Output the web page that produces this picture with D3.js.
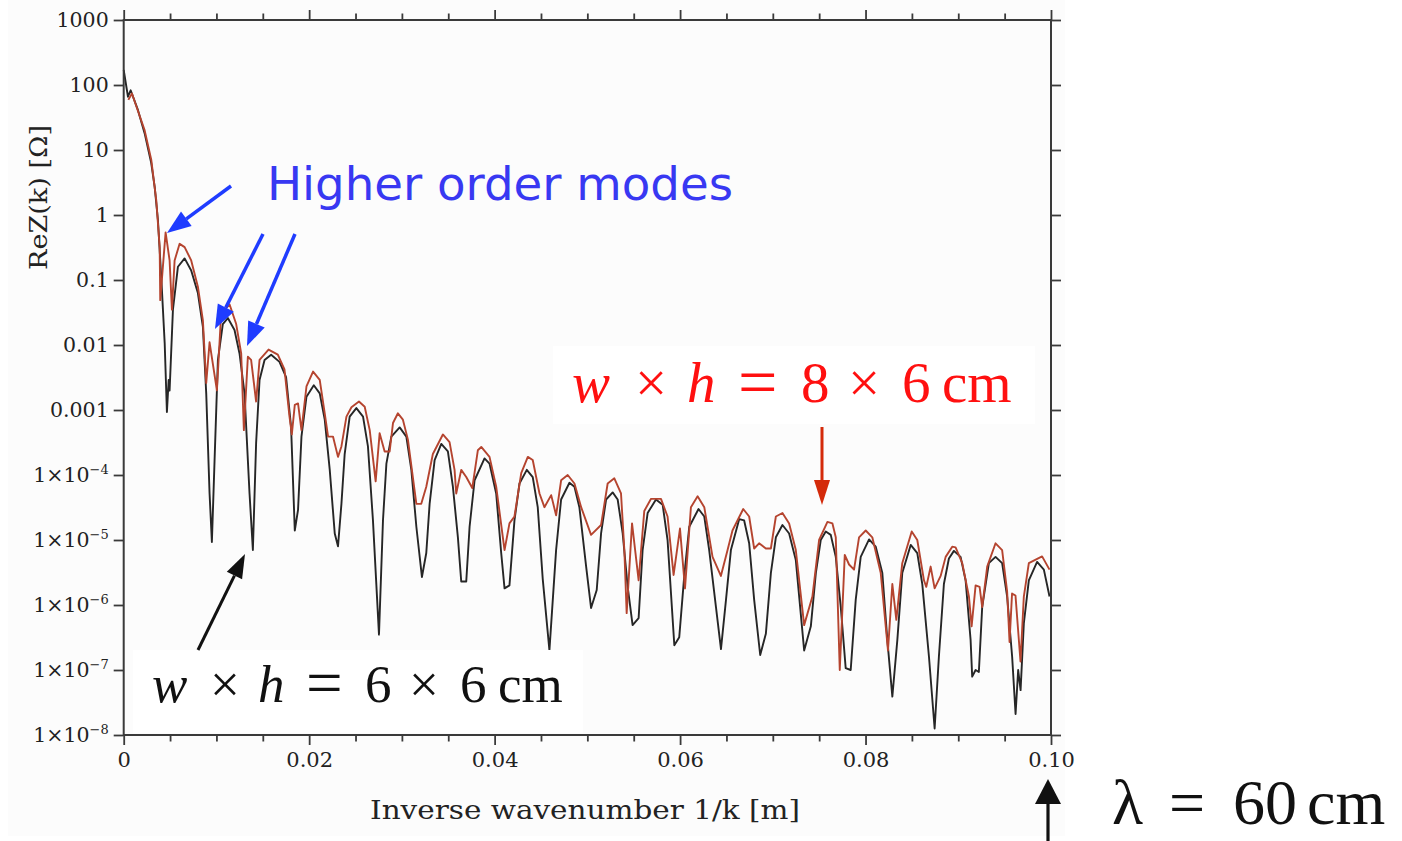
<!DOCTYPE html>
<html>
<head>
<meta charset="utf-8">
<script src="https://cdn.jsdelivr.net/npm/d3@7"></script>
<style>
  body { margin: 0; background: #fff; }
</style>
</head>
<body>
<svg id="chart" width="1402" height="841"></svg>
<script>
// ReZ(k) vs 1/k, two beam-pipe cross sections
const xMajorTicks = [0, 0.02, 0.04, 0.06, 0.08, 0.10];
const xMinorTicks = [0.005, 0.01, 0.015, 0.025, 0.03, 0.035, 0.045, 0.05, 0.055,
                     0.065, 0.07, 0.075, 0.085, 0.09, 0.095];
const yTicks = [1e-8, 1e-7, 1e-6, 1e-5, 1e-4, 1e-3, 1e-2, 1e-1, 1, 10, 100, 1000];

// w x h = 6 x 6 cm  (black)
const curve6x6 = [
  [0, 170], [0.00046, 66], [0.00075, 83], [0.00154, 41], [0.00226, 18], [0.00297, 6.3],
  [0.00334, 2.7], [0.00369, 0.84], [0.00405, 0.11], [0.00442, 0.0107], [0.00466, 0.00093],
  [0.00485, 0.0029], [0.00495, 0.002], [0.00531, 0.035], [0.00585, 0.16], [0.00657, 0.215],
  [0.00728, 0.14], [0.0080, 0.063], [0.00854, 0.019], [0.0089, 0.0018], [0.00926, 5.2e-5],
  [0.00951, 9.3e-6], [0.0098, 1.7e-4], [0.01016, 0.0059], [0.01069, 0.021], [0.01123, 0.026],
  [0.01195, 0.017], [0.01249, 0.0074], [0.01303, 0.0018], [0.01357, 5.2e-5], [0.01393, 7e-6],
  [0.01428, 3.1e-4], [0.01465, 0.0029], [0.01519, 0.0059], [0.0159, 0.0071], [0.0168, 0.0055],
  [0.01751, 0.0032], [0.01805, 5.5e-4], [0.01845, 1.4e-5], [0.0188, 2.9e-5], [0.01917, 3.9e-4],
  [0.01971, 0.0016], [0.0205, 0.0024], [0.02114, 0.0018], [0.02168, 7.1e-4], [0.02222, 1.2e-4],
  [0.02276, 1.26e-5], [0.02311, 8e-6], [0.02348, 3.6e-5], [0.02383, 2.1e-4], [0.02437, 7.9e-4],
  [0.02509, 0.00107], [0.02581, 7.9e-4], [0.02634, 2.75e-4], [0.02688, 2e-5], [0.02753, 3.5e-7],
  [0.02796, 2e-5], [0.02833, 1.5e-4], [0.02886, 3.9e-4], [0.02976, 5.4e-4], [0.03048, 3.9e-4],
  [0.03102, 1.2e-4], [0.03156, 1.6e-5], [0.03216, 2.7e-6], [0.03263, 6.3e-6], [0.03299, 3.6e-5],
  [0.03353, 1.7e-4], [0.03425, 3e-4], [0.03496, 2.3e-4], [0.0355, 6.6e-5], [0.03604, 1.1e-5],
  [0.0364, 2.3e-6], [0.03694, 2.3e-6], [0.0373, 1.6e-5], [0.03784, 8.3e-5], [0.03891, 1.8e-4],
  [0.03945, 1.5e-4], [0.04017, 5.2e-5], [0.04071, 6.3e-6], [0.04107, 1.8e-6], [0.0416, 2e-6],
  [0.04214, 2e-5], [0.04268, 7.4e-5], [0.04347, 1.2e-4], [0.04411, 9.3e-5], [0.04465, 3.2e-5],
  [0.04519, 2.5e-6], [0.04591, 2e-7], [0.04663, 7e-6], [0.04717, 4.2e-5], [0.04807, 7.6e-5],
  [0.04861, 6.6e-5], [0.04914, 3.2e-5], [0.04987, 3.9e-6], [0.0504, 9e-7], [0.05101, 1.7e-6],
  [0.05148, 1.26e-5], [0.05202, 4.2e-5], [0.05273, 5.4e-5], [0.05327, 4.2e-5], [0.05381, 1.26e-5],
  [0.05435, 1.9e-6], [0.05488, 4.9e-7], [0.05553, 6.3e-7], [0.05596, 7e-6], [0.0565, 2.6e-5],
  [0.0574, 4.2e-5], [0.05812, 3.5e-5], [0.05865, 1e-5], [0.05938, 2.4e-7], [0.05991, 3.2e-7],
  [0.06045, 2.8e-6], [0.06099, 1.6e-5], [0.06199, 3e-5], [0.06261, 2.3e-5], [0.06314, 7e-6],
  [0.06387, 9.3e-7], [0.06441, 2.1e-7], [0.06495, 1.2e-6], [0.06548, 7e-6], [0.06638, 2.1e-5],
  [0.06691, 2e-5], [0.06745, 8.9e-6], [0.06799, 1.2e-6], [0.06864, 1.7e-7], [0.06925, 3.6e-7],
  [0.06979, 3.1e-6], [0.07033, 1.1e-5], [0.07104, 1.7e-5], [0.07176, 1.26e-5], [0.07248, 4.9e-6],
  [0.07338, 2e-7], [0.0741, 4.7e-7], [0.07464, 3.1e-6], [0.07517, 1e-5], [0.07571, 1.35e-5],
  [0.07625, 1.2e-5], [0.07679, 5.5e-6], [0.07733, 9.3e-7], [0.07786, 1.07e-7], [0.0784, 1e-7],
  [0.07894, 1.2e-6], [0.07948, 5.5e-6], [0.08038, 1.02e-5], [0.0811, 7.9e-6], [0.08181, 3.1e-6],
  [0.08235, 2.9e-7], [0.08289, 3.9e-8], [0.08343, 2.9e-7], [0.08396, 3.1e-6], [0.08487, 8.4e-6],
  [0.08558, 6.3e-6], [0.08612, 2.1e-6], [0.08684, 1.6e-7], [0.08745, 1.26e-8], [0.08791, 1.6e-7],
  [0.08845, 2.1e-6], [0.08899, 5.2e-6], [0.08953, 6.8e-6], [0.09025, 5.5e-6], [0.09079, 2.4e-6],
  [0.09133, 2.9e-7], [0.0915, 7.9e-8], [0.09187, 1e-7], [0.09222, 9.3e-8], [0.09258, 9.3e-7],
  [0.0933, 4.4e-6], [0.09402, 5.5e-6], [0.09473, 4.4e-6], [0.09527, 1.35e-6], [0.09581, 1.6e-7],
  [0.09618, 2.1e-8], [0.09646, 1e-7], [0.09672, 4.9e-8], [0.09707, 5.2e-7], [0.09761, 2.4e-6],
  [0.0985, 4.6e-6], [0.09923, 3.5e-6], [0.09984, 1.35e-6]
];

// w x h = 8 x 6 cm  (red)
const curve8x6 = [
  [0.0005, 59], [0.00089, 74], [0.00226, 20], [0.00297, 7.1], [0.00351, 1.7], [0.00388, 0.32],
  [0.00394, 0.049], [0.00452, 0.54], [0.00495, 0.2], [0.0052, 0.035], [0.00549, 0.2],
  [0.00603, 0.36], [0.00657, 0.32], [0.00728, 0.2], [0.008, 0.079], [0.00854, 0.024],
  [0.0089, 0.0026], [0.00926, 0.011], [0.01005, 0.002], [0.01051, 0.031], [0.01142, 0.042],
  [0.01213, 0.021], [0.01267, 0.0074], [0.01296, 4.9e-4], [0.01339, 0.0066], [0.01374, 0.0059],
  [0.01428, 0.00135], [0.01465, 0.0059], [0.01562, 0.0085], [0.01662, 0.0071], [0.01734, 0.0042],
  [0.01788, 7.9e-4], [0.01813, 4.2e-4], [0.01845, 0.0012], [0.0188, 0.00126], [0.01917, 4.9e-4],
  [0.01971, 0.0023], [0.02042, 0.0039], [0.02114, 0.0029], [0.02168, 8.9e-4], [0.02204, 3.9e-4],
  [0.02257, 3.9e-4], [0.02311, 1.9e-4], [0.02348, 2.75e-4], [0.02402, 7.9e-4], [0.02456, 0.0011],
  [0.02537, 0.00135], [0.02599, 0.00112], [0.02653, 4.9e-4], [0.02717, 8e-5], [0.0276, 4.4e-4],
  [0.02814, 2.3e-4], [0.02868, 2.3e-4], [0.02904, 6.3e-4], [0.02957, 8.9e-4], [0.03011, 7.1e-4],
  [0.03065, 3.5e-4], [0.03156, 3.6e-5], [0.03209, 3.6e-5], [0.03263, 6.6e-5], [0.03334, 2.1e-4],
  [0.03442, 4.2e-4], [0.03514, 3.2e-4], [0.03568, 1.2e-4], [0.03586, 5.2e-5], [0.0364, 1.2e-4],
  [0.03694, 9.3e-5], [0.03759, 6.3e-5], [0.03819, 2.4e-4], [0.03856, 2.7e-4], [0.03945, 1.9e-4],
  [0.04017, 6.6e-5], [0.04107, 7e-6], [0.0416, 1.8e-5], [0.04214, 2.3e-5], [0.04287, 1.07e-4],
  [0.04358, 1.9e-4], [0.04411, 1.7e-4], [0.04484, 5.2e-5], [0.04537, 3.2e-5], [0.0461, 4.9e-5],
  [0.04663, 2.4e-5], [0.04717, 8.3e-5], [0.04788, 1e-4], [0.04861, 7.4e-5], [0.04933, 3.2e-5],
  [0.0504, 1.2e-5], [0.05148, 1.7e-5], [0.05219, 7.4e-5], [0.05291, 8.9e-5], [0.05363, 5.2e-5],
  [0.05399, 7e-6], [0.05424, 7.5e-7], [0.05482, 1.8e-5], [0.05553, 2.4e-6], [0.05614, 2.8e-5],
  [0.05687, 4.3e-5], [0.05794, 4.3e-5], [0.05865, 2.3e-5], [0.0593, 2.9e-6], [0.05999, 1.5e-5],
  [0.06053, 1.8e-6], [0.06117, 3.2e-5], [0.06189, 4.7e-5], [0.06261, 3.2e-5], [0.0635, 5.5e-6],
  [0.0644, 2.8e-6], [0.06512, 7e-6], [0.06565, 1.4e-5], [0.06681, 3e-5], [0.06745, 2.3e-5],
  [0.06799, 7.4e-6], [0.06852, 8.9e-6], [0.06925, 7.4e-6], [0.06979, 7.4e-6], [0.07033, 2.3e-5],
  [0.07104, 2.6e-5], [0.07176, 1.8e-5], [0.07248, 7e-6], [0.07338, 4.9e-7], [0.07427, 1.35e-6],
  [0.07499, 1e-5], [0.07589, 1.9e-5], [0.07643, 1.8e-5], [0.07679, 1.1e-5], [0.07722, 1e-7],
  [0.07776, 5.9e-6], [0.07822, 4.2e-6], [0.07876, 3.5e-6], [0.0793, 1.1e-5], [0.08002, 1.4e-5],
  [0.08073, 1.1e-5], [0.08164, 3.1e-6], [0.08242, 2e-7], [0.08289, 2.1e-6], [0.08332, 5.9e-7],
  [0.08396, 4.4e-6], [0.08498, 1.35e-5], [0.08558, 1e-5], [0.0863, 2.4e-6], [0.08655, 1.9e-6],
  [0.08702, 3.9e-6], [0.08745, 1.8e-6], [0.0881, 2.8e-6], [0.08864, 5.5e-6], [0.08935, 7.9e-6],
  [0.08971, 7.7e-6], [0.09043, 4.4e-6], [0.09115, 1.35e-6], [0.09144, 4.7e-7], [0.09187, 2e-6],
  [0.0923, 1.9e-6], [0.09258, 9.3e-7], [0.09312, 3.9e-6], [0.09402, 8.9e-6], [0.09473, 7e-6],
  [0.09527, 1.6e-6], [0.09553, 2.7e-7], [0.0958, 1.5e-6], [0.09617, 1.4e-6], [0.09671, 1.35e-7],
  [0.09707, 1.35e-6], [0.09761, 4.4e-6], [0.09904, 5.6e-6], [0.09984, 3.5e-6]
];

const plotLeft = 123.7, plotRight = 1051, plotTop = 20, plotBottom = 735;
const axisColor = "#3a3a3a";

const svg = d3.select("#chart");

// faint grey page of the original figure
svg.append("rect").attr("x", 8).attr("y", 0).attr("width", 1057).attr("height", 836)
    .attr("fill", "#fcfcfc");

const x = d3.scaleLinear().domain([0, 0.1]).range([plotLeft, plotRight]);
const y = d3.scaleLog().domain([1e-8, 1000]).range([plotBottom, plotTop]);

const line = d3.line()
    .x(function (d) { return x(d[0]); })
    .y(function (d) { return y(d[1]); });

svg.append("path").datum(curve6x6)
    .attr("d", line)
    .attr("fill", "none")
    .attr("stroke", "#262626")
    .attr("stroke-width", 1.9)
    .attr("stroke-linejoin", "round");

svg.append("path").datum(curve8x6)
    .attr("d", line)
    .attr("fill", "none")
    .attr("stroke", "#b5442f")
    .attr("stroke-width", 1.9)
    .attr("stroke-linejoin", "round");

// ---- axes ----
function styleAxis(g) {
    g.select(".domain").remove();
    g.selectAll(".tick line").attr("stroke", axisColor).attr("stroke-width", 1.8);
    g.selectAll(".tick text").attr("fill", "#222");
}

const xFmt = function (d) { return d === 0 ? "0" : d.toFixed(2); };

svg.append("g").attr("transform", "translate(0," + plotBottom + ")")
    .call(d3.axisBottom(x).tickValues(xMajorTicks).tickSize(10).tickPadding(7).tickFormat(xFmt))
    .call(styleAxis)
    .selectAll("text").attr("font-family", "DejaVu Serif").attr("font-size", 21);

svg.append("g").attr("transform", "translate(0," + plotBottom + ")")
    .call(d3.axisBottom(x).tickValues(xMinorTicks).tickSize(6.5).tickFormat(""))
    .call(styleAxis);

svg.append("g").attr("transform", "translate(0," + plotTop + ")")
    .call(d3.axisTop(x).tickValues(xMajorTicks).tickSize(10).tickFormat(""))
    .call(styleAxis);

svg.append("g").attr("transform", "translate(0," + plotTop + ")")
    .call(d3.axisTop(x).tickValues(xMinorTicks).tickSize(6.5).tickFormat(""))
    .call(styleAxis);

svg.append("g").attr("transform", "translate(" + plotRight + ",0)")
    .call(d3.axisRight(y).tickValues(yTicks).tickSize(10).tickFormat(""))
    .call(styleAxis);

const yAxisG = svg.append("g").attr("transform", "translate(" + plotLeft + ",0)")
    .call(d3.axisLeft(y).tickValues(yTicks).tickSize(10).tickPadding(5).tickFormat(""))
    .call(styleAxis);

yAxisG.selectAll(".tick text").each(function (d) {
    const e = Math.round(Math.log10(d));
    const t = d3.select(this)
        .attr("font-family", "DejaVu Serif")
        .attr("font-size", 20.5);
    if (e >= 0) {
        t.text(String(Math.pow(10, e)));
    } else if (e >= -3) {
        t.text("0." + "0".repeat(-e - 1) + "1");
    } else {
        t.text("1×10");
        t.append("tspan").attr("dy", "-0.6em").attr("font-size", 13).text("−" + (-e));
    }
});

// frame
svg.append("rect")
    .attr("x", plotLeft).attr("y", plotTop)
    .attr("width", plotRight - plotLeft).attr("height", plotBottom - plotTop)
    .attr("fill", "none").attr("stroke", axisColor).attr("stroke-width", 2);

// axis titles
svg.append("text")
    .attr("x", 370).attr("y", 819)
    .attr("font-family", "DejaVu Serif").attr("font-size", 26)
    .attr("textLength", 430).attr("lengthAdjust", "spacingAndGlyphs")
    .attr("fill", "#222")
    .text("Inverse wavenumber 1/k [m]");

svg.append("text")
    .attr("transform", "translate(47,270) rotate(-90)")
    .attr("font-family", "DejaVu Serif").attr("font-size", 25)
    .attr("textLength", 145).attr("lengthAdjust", "spacingAndGlyphs")
    .attr("fill", "#222")
    .text("ReZ(k) [Ω]");

// ---- annotations ----
function arrow(x1, y1, x2, y2, color, width, headLen, headHalf) {
    const a = Math.atan2(y2 - y1, x2 - x1);
    const bx = x2 - headLen * Math.cos(a), by = y2 - headLen * Math.sin(a);
    const g = svg.append("g");
    g.append("line")
        .attr("x1", x1).attr("y1", y1).attr("x2", bx).attr("y2", by)
        .attr("stroke", color).attr("stroke-width", width);
    g.append("path")
        .attr("d", "M" + x2 + "," + y2 +
            "L" + (bx + headHalf * Math.sin(a)) + "," + (by - headHalf * Math.cos(a)) +
            "L" + (bx - headHalf * Math.sin(a)) + "," + (by + headHalf * Math.cos(a)) + "Z")
        .attr("fill", color);
}

// "Higher order modes"
svg.append("text")
    .attr("x", 267).attr("y", 200)
    .attr("font-family", "DejaVu Sans").attr("font-size", 47)
    .attr("textLength", 466).attr("lengthAdjust", "spacingAndGlyphs")
    .attr("fill", "#3838f2")
    .text("Higher order modes");

const blue = "#1f3cff";
arrow(231, 186, 167, 233, blue, 3.5, 24, 9);
arrow(263, 234, 215, 329, blue, 3.5, 24, 9);
arrow(295, 234, 247, 346, blue, 3.5, 24, 9);

// TeX-like label: each piece placed at its own offset from the start;
// an enlarged piece is shifted down so it stays on the math axis
function mathLabel(xPos, yPos, size, color, parts) {
    const t = svg.append("text")
        .attr("font-family", "Liberation Serif").attr("font-size", size)
        .attr("fill", color);
    parts.forEach(function (p) {
        const big = p[3] || size;
        t.append("tspan")
            .attr("x", xPos + p[1])
            .attr("y", yPos + (big - size) * 0.28)
            .attr("font-style", p[2] ? "italic" : "normal")
            .attr("font-size", big)
            .text(p[0]);
    });
}

// 8 x 6 label (red)
svg.append("rect").attr("x", 553).attr("y", 346).attr("width", 482).attr("height", 78).attr("fill", "#fff");
mathLabel(572, 402, 57, "#ff1010",
    [["w", 0, true], ["×", 63, false], ["h", 115, true], ["=", 166, false, 70],
     ["8", 229, false], ["×", 276, false], ["6", 330, false], ["cm", 370, false]]);
arrow(822, 427, 822, 505, "#d42a0a", 3, 25, 8);

// 6 x 6 label (black)
svg.append("rect").attr("x", 133).attr("y", 650).attr("width", 450).attr("height", 83).attr("fill", "#fff");
mathLabel(152, 702, 53, "#111",
    [["w", 0, true], ["×", 58, false], ["h", 106, true], ["=", 154, false, 65],
     ["6", 213, false], ["×", 257, false], ["6", 308, false], ["cm", 346, false]]);
arrow(198, 650, 245, 554, "#111", 3, 24, 8.5);

// lambda label
mathLabel(1112, 824, 64, "#111",
    [["λ", 0, false], ["=", 57, false], ["60", 121, false], ["cm", 195, false]]);
arrow(1048, 841, 1048, 779, "#111", 3.2, 25, 13);
</script>
</body>
</html>
